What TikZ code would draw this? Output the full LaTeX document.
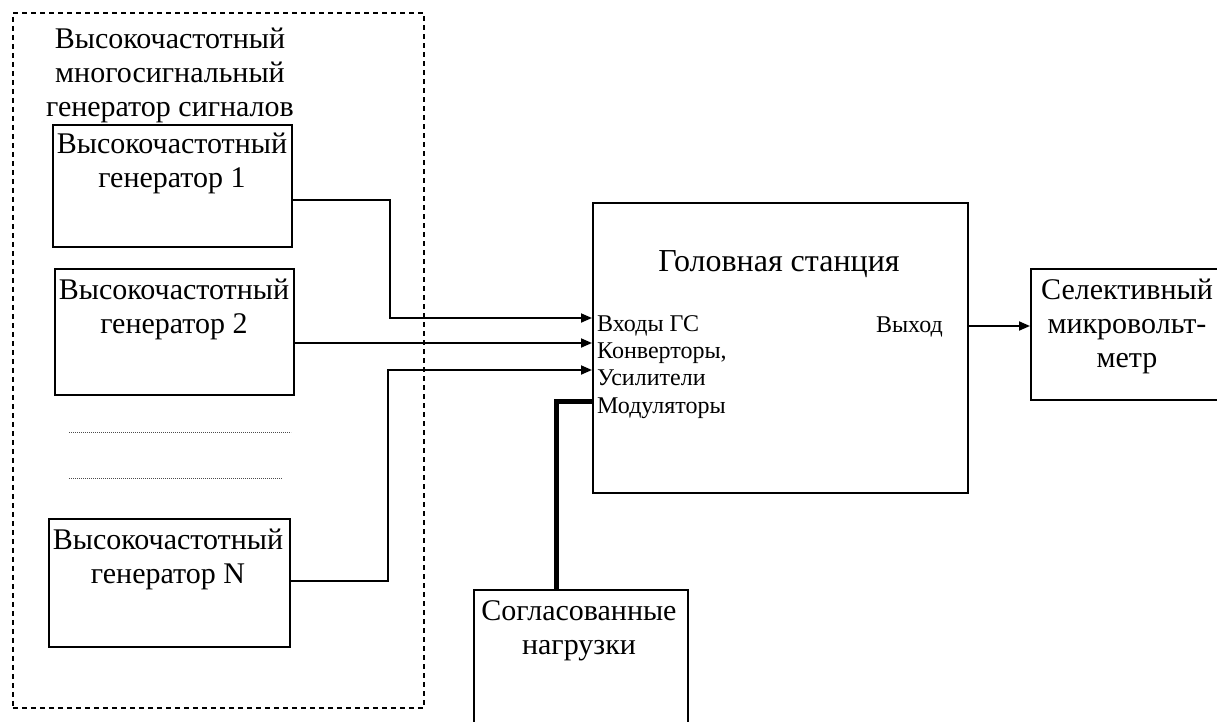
\documentclass[tikz,border=0pt]{standalone}
\usepackage{fontspec}
\setmainfont{Liberation Serif}
\usetikzlibrary{arrows.meta}
\begin{document}
\begin{tikzpicture}[x=1pt,y=-1pt,
  box/.style={draw, line width=2pt, inner sep=0pt, anchor=north west},
  group/.style={draw, line width=1.6pt, dash pattern=on 5pt off 4pt, inner sep=0pt, anchor=north west},
  big/.style={font=\fontsize{30}{34}\selectfont, align=center, inner sep=0pt, anchor=base},
  small/.style={font=\fontsize{24}{27.3}\selectfont, align=left, inner sep=0pt},
  wire/.style={line width=1.8pt},
  heavy/.style={line width=5pt},
  arr/.style={wire, -{Triangle[length=11pt,width=9pt]}},
  dotline/.style={line width=0.7pt, dash pattern=on 0.8pt off 1.2pt, black!70}]
\useasboundingbox (0,0) rectangle (1217,722);
\clip (0,0) rectangle (1217,722);
% group frame
\node[group, minimum width=411pt, minimum height=695pt] (grp) at (12,12) {};
\node[big] (tgrp) at (170,117) {Высокочастотный\\многосигнальный\\генератор сигналов};
% generators
\node[box, minimum width=239pt, minimum height=122pt] (g1) at (52,124) {};
\node[big] (tg1) at (172,188) {Высокочастотный\\генератор 1};
\node[box, minimum width=239pt, minimum height=126pt] (g2) at (54,268) {};
\node[big] (tg2) at (174,333) {Высокочастотный\\генератор 2};
\node[box, minimum width=241pt, minimum height=128pt] (gN) at (48,518) {};
\node[big] (tgN) at (168,583) {Высокочастотный\\генератор N};
\draw[dotline] (69,432) -- (291,432);
\draw[dotline] (69,478) -- (282,478);
% head station
\node[box, minimum width=375pt, minimum height=290pt] (gs) at (592,202) {};
\node[font=\fontsize{32}{36}\selectfont, anchor=base, inner sep=0pt] (tgs) at (779,271) {Головная станция};
\node[small, anchor=base west] (tin) at (597,413) {Входы ГС\\Конверторы,\\Усилители\\Модуляторы};
\node[small, anchor=base east] (tout) at (943,332) {Выход};
% selective microvoltmeter
\node[box, minimum width=250pt, minimum height=131pt] (sel) at (1030,268) {};
\node[big] (tsel) at (1127,367) {Селективный\\микровольт-\\метр};
% matched loads
\node[box, minimum width=214pt, minimum height=200pt] (load) at (473,589) {};
\node[big] (tload) at (579,654) {Согласованные\\нагрузки};
% connectors
\coordinate (k1) at (390,318);
\coordinate (kN) at (388,370);
\coordinate (kL) at (556,401);
\draw[arr] ([yshift=-14pt]g1.east) -| (k1) -- (k1 -| gs.west);
\draw[arr] ([yshift=-11pt]g2.east) -- ([yshift=5pt]gs.west);
\draw[arr] ([yshift=2pt]gN.east) -| (kN) -- (kN -| gs.west);
\draw[heavy] (kL -| gs.west) -- (kL) -- (kL |- load.north);
\draw[arr] ([yshift=22pt]gs.east) -- ([yshift=22pt]gs.east -| sel.west);
\end{tikzpicture}
\end{document}
